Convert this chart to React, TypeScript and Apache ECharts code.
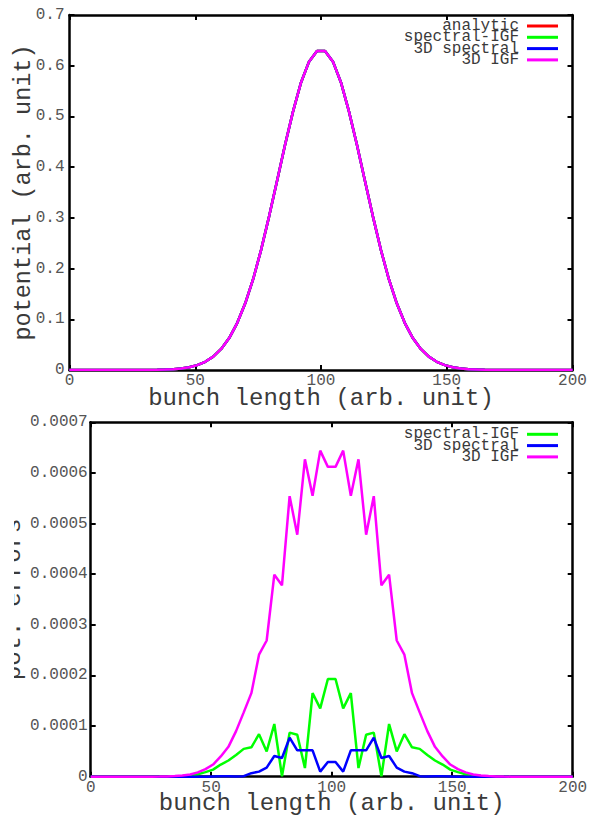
import React, { useEffect, useRef } from "react";
import * as echarts from "echarts";

// grid positions along the bunch (64 samples over 0..200)
const X = [
  0, 3.175, 6.349, 9.524, 12.698, 15.873, 19.048, 22.222, 25.397, 28.571, 31.746, 34.921,
  38.095, 41.27, 44.444, 47.619, 50.794, 53.968, 57.143, 60.317, 63.492, 66.667, 69.841,
  73.016, 76.19, 79.365, 82.54, 85.714, 88.889, 92.063, 95.238, 98.413, 101.587, 104.762,
  107.937, 111.111, 114.286, 117.46, 120.635, 123.81, 126.984, 130.159, 133.333, 136.508,
  139.683, 142.857, 146.032, 149.206, 152.381, 155.556, 158.73, 161.905, 165.079, 168.254,
  171.429, 174.603, 177.778, 180.952, 184.127, 187.302, 190.476, 193.651, 196.825, 200,
];

// potential (all four solutions coincide at this scale)
const potential = [
  0, 0, 0, 0, 0, 0, 0, 0, 0, 0.0001, 0.0002, 0.0004, 0.0008, 0.0016, 0.003, 0.0055, 0.0096,
  0.0162, 0.0263, 0.0415, 0.063, 0.0925, 0.131, 0.179, 0.237, 0.303, 0.373, 0.444, 0.51,
  0.567, 0.608, 0.629, 0.629, 0.608, 0.567, 0.51, 0.444, 0.373, 0.303, 0.237, 0.179, 0.131,
  0.0925, 0.063, 0.0415, 0.0263, 0.0162, 0.0096, 0.0055, 0.003, 0.0016, 0.0008, 0.0004,
  0.0002, 0.0001, 0, 0, 0, 0, 0, 0, 0, 0, 0,
];

// potential errors
const errSpectralIGF = [
  0, 0, 0, 0, 0, 0, 0, 0, 0, 0, 0.0000003, 0.0000007, 0.0000015, 0.000003, 0.000005,
  0.000009, 0.000014, 0.000024, 0.000032, 0.000043, 0.000055, 0.000058, 0.000084, 0.00005,
  0.000104, 0.000001, 0.000087, 0.000083, 0.000017, 0.000165, 0.000135, 0.000193,
  0.000193, 0.000135, 0.000165, 0.000017, 0.000083, 0.000087, 0.000001, 0.000104, 0.00005,
  0.000084, 0.000058, 0.000055, 0.000043, 0.000032, 0.000024, 0.000014, 0.000009, 0.000005,
  0.000003, 0.0000015, 0.0000007, 0.0000003, 0, 0, 0, 0, 0, 0, 0, 0, 0, 0,
];

const errSpectral3D = [
  0, 0, 0, 0, 0, 0, 0, 0, 0, 0, 0, 0, 0, 0, 0, 0, 0.0000005, 0.000001, 0.000001, 0.0000005,
  0.000001, 0.000007, 0.00001, 0.000018, 0.000041, 0.000037, 0.000077, 0.000052, 0.000052,
  0.000052, 0.00001, 0.000029, 0.000029, 0.00001, 0.000052, 0.000052, 0.000052, 0.000077,
  0.000037, 0.000041, 0.000018, 0.00001, 0.000007, 0.000001, 0.0000005, 0.000001, 0.000001,
  0.0000005, 0, 0, 0, 0, 0, 0, 0, 0, 0, 0, 0, 0, 0, 0, 0, 0,
];

const errIGF3D = [
  0, 0, 0, 0, 0, 0, 0, 0, 0.0000001, 0.0000003, 0.0000006, 0.0000012, 0.0000024, 0.0000045,
  0.0000085, 0.000015, 0.000024, 0.00004, 0.000059, 0.00009, 0.000127, 0.000165, 0.000241,
  0.000269, 0.000399, 0.000378, 0.000554, 0.000478, 0.000627, 0.000555, 0.000644, 0.000612,
  0.000612, 0.000644, 0.000555, 0.000627, 0.000478, 0.000554, 0.000378, 0.000399, 0.000269,
  0.000241, 0.000165, 0.000127, 0.00009, 0.000059, 0.00004, 0.000024, 0.000015, 0.0000085,
  0.0000045, 0.0000024, 0.0000012, 0.0000006, 0.0000003, 0.0000001, 0, 0, 0, 0, 0, 0, 0, 0,
];

const X_TICKS = { min: 0, max: 200, interval: 50 };
const Y_TOP = { min: 0, max: 0.7, interval: 0.1 };
const Y_BOTTOM = { min: 0, max: 0.0007, interval: 0.0001 };

const TOP_LEGEND = ["analytic", "spectral-IGF", "3D spectral", "3D IGF"];
const BOTTOM_LEGEND = ["spectral-IGF", "3D spectral", "3D IGF"];

const FONT = "'Liberation Mono', 'DejaVu Sans Mono', monospace";
const C = { analytic: "#ff0000", spectralIGF: "#00ff00", spectral3D: "#0000ff", igf3D: "#ff00ff" };

const pairs = (ys: number[]) => X.map((x, i) => [x, ys[i]]);

export default function App() {
  const ref = useRef<HTMLDivElement>(null);
  useEffect(() => {
    const chart = echarts.init(ref.current!, null, { renderer: "svg" });
    const axisLine = { show: true, onZero: false, lineStyle: { color: "#000", width: 2.5 } };
    const axisTick = { show: true, inside: true, length: 5, lineStyle: { color: "#000", width: 2 } };
    const labelStyle = { color: "#555", fontFamily: FONT, fontSize: 16 };
    const nameStyle = { color: "#3a3a3a", fontFamily: FONT, fontSize: 24 };
    const mirror = { axisLine, axisTick, axisLabel: { show: false }, splitLine: { show: false } };

    const line = (name: string, color: string, data: number[], axis: number) => ({
      type: "line",
      name,
      xAxisIndex: axis,
      yAxisIndex: axis,
      data: pairs(data),
      symbol: "none",
      showSymbol: false,
      lineStyle: { color, width: 2.5 },
      itemStyle: { color },
    });

    const legendItem = (name: string, centerY: number) => ({
      orient: "vertical",
      right: 39,
      top: centerY - 7,
      padding: 0,
      itemWidth: 31,
      itemHeight: 3,
      icon: "rect",
      align: "right",
      selectedMode: false,
      data: [name],
      textStyle: { fontFamily: FONT, fontSize: 16, color: "#3a3a3a", padding: [0, 3, 0, 0] },
    });

    const legends = [
      ...TOP_LEGEND.map((n, i) => legendItem(n, 25 + i * 11.3)),
      ...BOTTOM_LEGEND.map((n, i) => legendItem(n, 433.3 + i * 11.3)),
    ];

    chart.setOption({
      animation: false,
      backgroundColor: "#fff",
      grid: [
        { left: 69.5, top: 15, width: 503, height: 355, containLabel: false, outerBoundsMode: "none" },
        { left: 90.7, top: 422.3, width: 482, height: 354.4, containLabel: false, outerBoundsMode: "none" },
      ],
      xAxis: [
        {
          gridIndex: 0, type: "value", position: "bottom", ...X_TICKS, axisLine, axisTick,
          axisLabel: { ...labelStyle, margin: 3 }, splitLine: { show: false },
          name: "bunch length (arb. unit)", nameLocation: "middle", nameGap: 16, nameMoveOverlap: false,
          nameTextStyle: nameStyle,
        },
        { gridIndex: 0, type: "value", position: "top", ...X_TICKS, ...mirror },
        {
          gridIndex: 1, type: "value", position: "bottom", ...X_TICKS, axisLine, axisTick,
          axisLabel: { ...labelStyle, margin: 3 }, splitLine: { show: false },
          name: "bunch length (arb. unit)", nameLocation: "middle", nameGap: 14.5, nameMoveOverlap: false,
          nameTextStyle: nameStyle,
        },
        { gridIndex: 1, type: "value", position: "top", ...X_TICKS, ...mirror },
      ],
      yAxis: [
        {
          gridIndex: 0, type: "value", position: "left", ...Y_TOP, axisLine, axisTick,
          axisLabel: { ...labelStyle, margin: 5, formatter: (v: number) => (v === 0 ? "0" : v.toFixed(1)) },
          splitLine: { show: false },
          name: "potential (arb. unit)", nameLocation: "middle", nameGap: 34, nameMoveOverlap: false,
          nameTextStyle: { ...nameStyle, fontSize: 23.5 },
        },
        { gridIndex: 0, type: "value", position: "right", ...Y_TOP, ...mirror },
        {
          gridIndex: 1, type: "value", position: "left", ...Y_BOTTOM, axisLine, axisTick,
          axisLabel: { ...labelStyle, margin: 3, formatter: (v: number) => (v === 0 ? "0" : v.toFixed(4)) },
          splitLine: { show: false },
          name: "pot. errors", nameLocation: "middle", nameGap: 65, nameMoveOverlap: false,
          nameTextStyle: { ...nameStyle, fontSize: 24.5 },
        },
        { gridIndex: 1, type: "value", position: "right", ...Y_BOTTOM, ...mirror },
      ],
      legend: legends,
      graphic: [
        { type: "rect", z: 100, shape: { x: 0, y: 505, width: 14, height: 195 }, style: { fill: "#fff" } },
      ],
      series: [
        line("analytic", C.analytic, potential, 0),
        line("spectral-IGF", C.spectralIGF, potential, 0),
        line("3D spectral", C.spectral3D, potential, 0),
        line("3D IGF", C.igf3D, potential, 0),
        line("spectral-IGF", C.spectralIGF, errSpectralIGF, 2),
        line("3D spectral", C.spectral3D, errSpectral3D, 2),
        line("3D IGF", C.igf3D, errIGF3D, 2),
      ],
    });
    return () => chart.dispose();
  }, []);
  return (
    <div
      ref={ref}
      style={{ position: "absolute", left: 0, top: 0, width: 597, height: 816, background: "#fff" }}
    />
  );
}
